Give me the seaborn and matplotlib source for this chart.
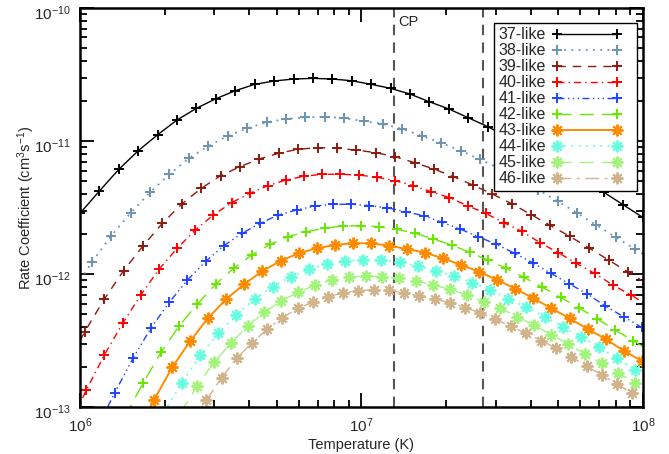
import numpy as np
import matplotlib
matplotlib.use("Agg")
import matplotlib.pyplot as plt
import matplotlib.transforms as mtransforms
import seaborn as sns
from matplotlib.ticker import LogLocator, FixedLocator, NullFormatter
from matplotlib.legend_handler import HandlerLine2D

sns.set_style("ticks")
plt.rcParams["font.family"] = ["Liberation Sans", "DejaVu Sans"]
plt.rcParams["mathtext.fontset"] = "custom"
plt.rcParams["mathtext.rm"] = "Liberation Sans"
plt.rcParams["mathtext.it"] = "Liberation Sans:italic"
plt.rcParams["mathtext.bf"] = "Liberation Sans:bold"

# Isoelectronic sequences shown in the legend
ions = ["37-like", "38-like", "39-like", "40-like", "41-like",
        "42-like", "43-like", "44-like", "45-like", "46-like"]

# Temperature grids (K) on which each rate coefficient was tabulated
temp_37 = np.logspace(6.000, 8.000, 30)
temp_38 = np.logspace(5.973, 8.042, 31)
temp_39 = np.logspace(5.948, 8.016, 31)
temp_40 = np.logspace(5.958, 8.022, 33)
temp_41 = np.logspace(6.059, 7.996, 31)
temp_42 = np.logspace(6.159, 8.030, 30)
temp_43 = np.logspace(6.199, 7.996, 29)
temp_44 = np.logspace(6.298, 8.037, 28)
temp_45 = np.logspace(6.356, 7.973, 28)
temp_46 = np.logspace(6.395, 7.962, 30)

# log10 of the rate coefficient (cm^3 s^-1)
log_rate_37 = [-11.544, -11.376, -11.213, -11.073, -10.953, -10.842, -10.754, -10.682,
               -10.622, -10.574, -10.549, -10.534, -10.529, -10.534, -10.547, -10.574,
               -10.604, -10.647, -10.705, -10.759, -10.825, -10.892, -10.966, -11.041,
               -11.120, -11.203, -11.293, -11.387, -11.481, -11.575]
log_rate_38 = [-12.135, -11.912, -11.712, -11.541, -11.386, -11.250, -11.130, -11.038,
               -10.962, -10.905, -10.859, -10.835, -10.822, -10.817, -10.829, -10.850,
               -10.872, -10.910, -10.962, -11.013, -11.073, -11.138, -11.207, -11.286,
               -11.368, -11.453, -11.541, -11.634, -11.724, -11.814, -11.906]
log_rate_39 = [-12.707, -12.434, -12.190, -11.975, -11.789, -11.619, -11.474, -11.356,
               -11.261, -11.193, -11.135, -11.092, -11.062, -11.050, -11.055, -11.068,
               -11.088, -11.118, -11.163, -11.211, -11.268, -11.331, -11.398, -11.471,
               -11.553, -11.635, -11.717, -11.805, -11.895, -11.985, -12.075]
log_rate_40 = [-13.158, -12.872, -12.607, -12.371, -12.158, -11.965, -11.807, -11.669,
               -11.556, -11.464, -11.393, -11.336, -11.293, -11.265, -11.250, -11.250,
               -11.256, -11.272, -11.298, -11.336, -11.381, -11.426, -11.486, -11.544,
               -11.614, -11.680, -11.765, -11.840, -11.920, -11.995, -12.083, -12.158,
               -12.241]
log_rate_41 = [-13.165, -12.892, -12.634, -12.404, -12.213, -12.045, -11.905, -11.787,
               -11.694, -11.619, -11.556, -11.519, -11.489, -11.476, -11.476, -11.486,
               -11.502, -11.532, -11.562, -11.611, -11.662, -11.719, -11.777, -11.844,
               -11.916, -11.995, -12.073, -12.150, -12.241, -12.321, -12.402]
log_rate_42 = [-13.075, -12.822, -12.589, -12.389, -12.226, -12.077, -11.957, -11.857,
               -11.777, -11.719, -11.682, -11.656, -11.639, -11.637, -11.644, -11.664,
               -11.694, -11.737, -11.782, -11.837, -11.895, -11.957, -12.026, -12.100,
               -12.175, -12.253, -12.335, -12.421, -12.502, -12.586]
log_rate_43 = [-13.226, -12.947, -12.702, -12.504, -12.329, -12.188, -12.075, -11.977,
               -11.902, -11.844, -11.807, -11.782, -11.769, -11.769, -11.787, -11.812,
               -11.840, -11.882, -11.932, -11.983, -12.045, -12.111, -12.183, -12.258,
               -12.333, -12.414, -12.489, -12.577, -12.653]
log_rate_44 = [-13.038, -12.817, -12.611, -12.446, -12.308, -12.188, -12.095, -12.020,
               -11.965, -11.925, -11.902, -11.895, -11.895, -11.912, -11.940, -11.975,
               -12.015, -12.065, -12.120, -12.186, -12.250, -12.321, -12.396, -12.471,
               -12.551, -12.634, -12.722, -12.805]
log_rate_45 = [-13.045, -12.842, -12.664, -12.521, -12.391, -12.288, -12.201, -12.138,
               -12.083, -12.045, -12.025, -12.015, -12.020, -12.032, -12.050, -12.083,
               -12.115, -12.158, -12.208, -12.258, -12.321, -12.386, -12.455, -12.526,
               -12.599, -12.671, -12.744, -12.822]
log_rate_46 = [-13.135, -12.947, -12.780, -12.634, -12.516, -12.416, -12.329, -12.258,
               -12.213, -12.171, -12.141, -12.126, -12.117, -12.124, -12.143, -12.165,
               -12.188, -12.216, -12.252, -12.293, -12.341, -12.391, -12.446, -12.500,
               -12.559, -12.624, -12.692, -12.759, -12.827, -12.897]

# Temperatures marked by the vertical guide lines
cp_temps = [1.31e7, 2.70e7]
cp_label = "CP"

# Decade tick positions
x_ticks = [1e6, 1e7, 1e8]
y_ticks = [1e-13, 1e-12, 1e-11, 1e-10]

temps = [temp_37, temp_38, temp_39, temp_40, temp_41,
         temp_42, temp_43, temp_44, temp_45, temp_46]
log_rates = [log_rate_37, log_rate_38, log_rate_39, log_rate_40, log_rate_41,
             log_rate_42, log_rate_43, log_rate_44, log_rate_45, log_rate_46]

plus = "+"
star = (8, 2, 0)
styles = [
    dict(color="#000000", ls="-", marker=plus, lw=1.0, ms=7.5),
    dict(color="#6C93B0", ls=(0, (1, 3)), marker=plus, lw=1.3, ms=7.5),
    dict(color="#8B1A0E", ls=(0, (6, 5)), marker=plus, lw=1.0, ms=7.5),
    dict(color="#FF0000", ls=(0, (5, 3, 1, 3)), marker=plus, lw=1.0, ms=7.5),
    dict(color="#1F44FF", ls=(0, (5, 2.5, 1, 2.5, 1, 2.5, 1, 2.5)), marker=plus, lw=1.0, ms=7.5),
    dict(color="#66E800", ls=(0, (10, 6)), marker=plus, lw=1.0, ms=7.5),
    dict(color="#FF8C00", ls="-", marker=star, lw=1.4, ms=8.5),
    dict(color="#66FFE0", ls=(0, (1, 3)), marker=star, lw=1.3, ms=8.5),
    dict(color="#A2F57A", ls=(0, (10, 6)), marker=star, lw=1.0, ms=8.5),
    dict(color="#D2B48C", ls=(0, (10, 4, 2, 4)), marker=star, lw=1.0, ms=8.5),
]

fig = plt.figure(figsize=(6.69, 4.54), dpi=100)
ax = fig.add_axes([0.1196, 0.1035, 0.8414, 0.8789])
ax.set_xscale("log")
ax.set_yscale("log")

handles = []
for ion, t, lr, st in zip(ions, temps, log_rates, styles):
    sns.lineplot(x=t, y=10.0 ** np.asarray(lr), ax=ax, color=st["color"],
                 linestyle=st["ls"], linewidth=st["lw"], marker=st["marker"],
                 markersize=st["ms"], markeredgewidth=1.4, markeredgecolor=st["color"],
                 estimator=None, errorbar=None, legend=False)
    handles.append(ax.lines[-1])

for ct in cp_temps:
    ax.axvline(ct, color="#555555", lw=1.5, ls=(0, (5, 3.5)), zorder=1)
ax.text(1.465e7, 0.965, cp_label, transform=ax.get_xaxis_transform(),
        ha="center", va="center", fontsize=10.5)

ax.set_xlim(1e6, 1e8)
ax.set_ylim(1e-13, 1e-10)
ax.set_xlabel("Temperature (K)", fontsize=10.5, labelpad=2)
ax.set_ylabel(r"Rate Coefficient (cm$^{3}$s$^{-1}$)", fontsize=10.5)
ax.yaxis.set_label_coords(-0.076, 0.5)

ax.xaxis.set_major_locator(FixedLocator(x_ticks))
ax.yaxis.set_major_locator(FixedLocator(y_ticks))
ax.xaxis.set_minor_locator(LogLocator(base=10, subs=np.arange(2, 10), numticks=20))
ax.yaxis.set_minor_locator(LogLocator(base=10, subs=np.arange(2, 10), numticks=20))
ax.xaxis.set_minor_formatter(NullFormatter())
ax.yaxis.set_minor_formatter(NullFormatter())
ax.tick_params(which="both", direction="in", top=True, right=True, width=1.3,
               labelsize=11, color="black")
ax.tick_params(which="major", length=10, pad=7)
ax.tick_params(which="minor", length=5)
for sp in ax.spines.values():
    sp.set_linewidth(1.8)
    sp.set_color("black")

leg = ax.legend(handles, ions, loc="upper right", bbox_to_anchor=(0.9893, 0.9624),
                markerfirst=False, numpoints=2, handlelength=5.69, fontsize=11.5,
                handler_map={h: HandlerLine2D(marker_pad=0.97) for h in handles},
                frameon=True, fancybox=False, framealpha=1, edgecolor="black",
                borderpad=0.28, labelspacing=0.0625, handletextpad=-0.28, borderaxespad=0)
leg.get_frame().set_linewidth(1.0)

# keep the topmost y tick label inside the figure
fig.canvas.draw()
for tick in ax.yaxis.get_major_ticks():
    if np.isclose(tick.get_loc(), 1e-10):
        tick.label1.set_transform(tick.label1.get_transform() +
                                  mtransforms.ScaledTranslation(0, -3 / 72, fig.dpi_scale_trans))

fig.savefig("out.png", dpi=100)
